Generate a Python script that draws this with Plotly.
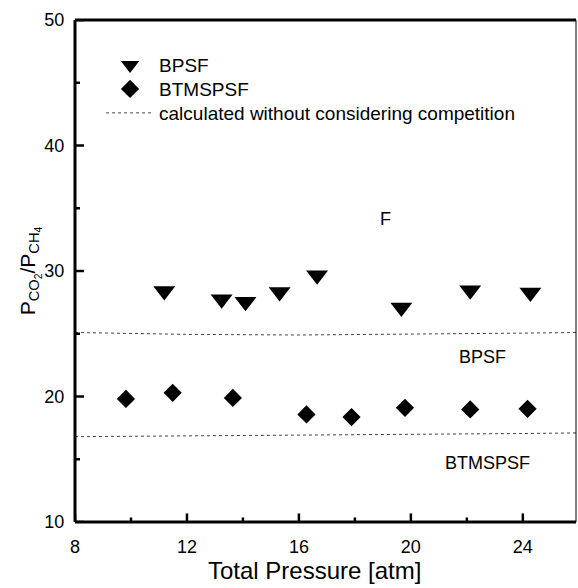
import plotly.graph_objects as go

bpsf_x = [11.19, 13.24, 14.09, 15.31, 16.65, 19.66, 22.12, 24.27]
bpsf_y = [28.41, 27.75, 27.54, 28.33, 29.66, 27.09, 28.47, 28.28]
btms_x = [9.82, 11.49, 13.64, 16.27, 17.88, 19.79, 22.12, 24.17]
btms_y = [19.81, 20.29, 19.89, 18.57, 18.36, 19.10, 18.97, 19.02]
calc_x = [8, 12, 16, 20, 24, 26]
calc_bpsf = [25.1, 24.95, 24.9, 24.95, 25.05, 25.1]
calc_btms = [16.8, 16.85, 16.9, 16.95, 17.05, 17.1]
x_ticks = [8, 12, 16, 20, 24]
x_minor = [10, 14, 18, 22]
y_ticks = [10, 20, 30, 40, 50]
y_minor = [15, 25, 35, 45]

font = "Liberation Sans, Arial, sans-serif"
fig = go.Figure()
fig.add_trace(go.Scatter(x=bpsf_x, y=bpsf_y, mode="markers", name="BPSF", legend="legend",
                         marker=dict(symbol="triangle-down", size=19, color="black")))
fig.add_trace(go.Scatter(x=btms_x, y=btms_y, mode="markers", name="BTMSPSF", legend="legend2",
                         marker=dict(symbol="diamond", size=14, color="black")))
fig.add_trace(go.Scatter(x=calc_x, y=calc_bpsf, mode="lines", legend="legend3",
                         name="calculated without considering competition",
                         line=dict(color="#444", width=1, dash="dot")))
fig.add_trace(go.Scatter(x=calc_x, y=calc_btms, mode="lines", showlegend=False,
                         line=dict(color="#444", width=1, dash="dot")))

fig.add_annotation(x=19.1, y=34.15, text="F", showarrow=False,
                   font=dict(size=18, color="black"))
fig.add_annotation(x=22.57, y=23.15, text="BPSF", showarrow=False,
                   font=dict(size=18, color="black"))
fig.add_annotation(x=22.75, y=14.7, text="BTMSPSF", showarrow=False,
                   font=dict(size=18, color="black"))
# x-axis title
fig.add_annotation(xref="paper", yref="paper", x=0.479, y=-0.097, yanchor="middle",
                   text="Total Pressure [atm]", showarrow=False,
                   font=dict(size=24, color="black"))

# frame: thick left/bottom/top, thin right
fig.add_shape(type="line", xref="paper", yref="paper", x0=1, x1=1, y0=0, y1=1,
              line=dict(color="black", width=1))
fig.add_shape(type="line", xref="paper", yref="paper", x0=0, x1=0, y0=0, y1=1,
              line=dict(color="black", width=3))
fig.add_shape(type="line", xref="paper", yref="paper", x0=0, x1=1, y0=0, y1=0,
              line=dict(color="black", width=3))
fig.add_shape(type="line", xref="paper", yref="paper", x0=0, x1=1, y0=1, y1=1,
              line=dict(color="black", width=3))
# inside ticks
for v in x_ticks + x_minor:
    L = 0.017 if v in x_ticks else 0.009
    fig.add_shape(type="line", xref="x", yref="paper", x0=v, x1=v, y0=0, y1=L,
                  line=dict(color="black", width=2.5))
for v in y_ticks + y_minor:
    L = 0.018 if v in y_ticks else 0.01
    fig.add_shape(type="line", xref="paper", yref="y", x0=0, x1=L, y0=v, y1=v,
                  line=dict(color="black", width=2.5))

leg_common = dict(xanchor="left", yanchor="middle", bgcolor="rgba(0,0,0,0)",
                  font=dict(size=19), itemwidth=48)
fig.update_layout(
    width=578, height=588,
    margin=dict(l=75, r=2, t=20, b=66),
    plot_bgcolor="white", paper_bgcolor="white",
    font=dict(family=font, color="black", size=18),
    showlegend=True,
    legend=dict(x=0.052, y=0.910, **leg_common),
    legend2=dict(x=0.052, y=0.8625, **leg_common),
    legend3=dict(x=0.052, y=0.8147, **leg_common),
    xaxis=dict(range=[8, 25.9], tickmode="array", tickvals=x_ticks,
               ticks="outside", ticklen=8, tickcolor="rgba(0,0,0,0)",
               showline=False, showgrid=False, zeroline=False),
    yaxis=dict(range=[10, 50], tickmode="array", tickvals=y_ticks,
               ticks="outside", ticklen=6, tickcolor="rgba(0,0,0,0)",
               showline=False, showgrid=False, zeroline=False,
               title=dict(text="P<sub>CO<sub>2</sub></sub>/P<sub>CH<sub>4</sub></sub>",
                          font=dict(size=21), standoff=0)),
)
fig.write_html("out.html")
